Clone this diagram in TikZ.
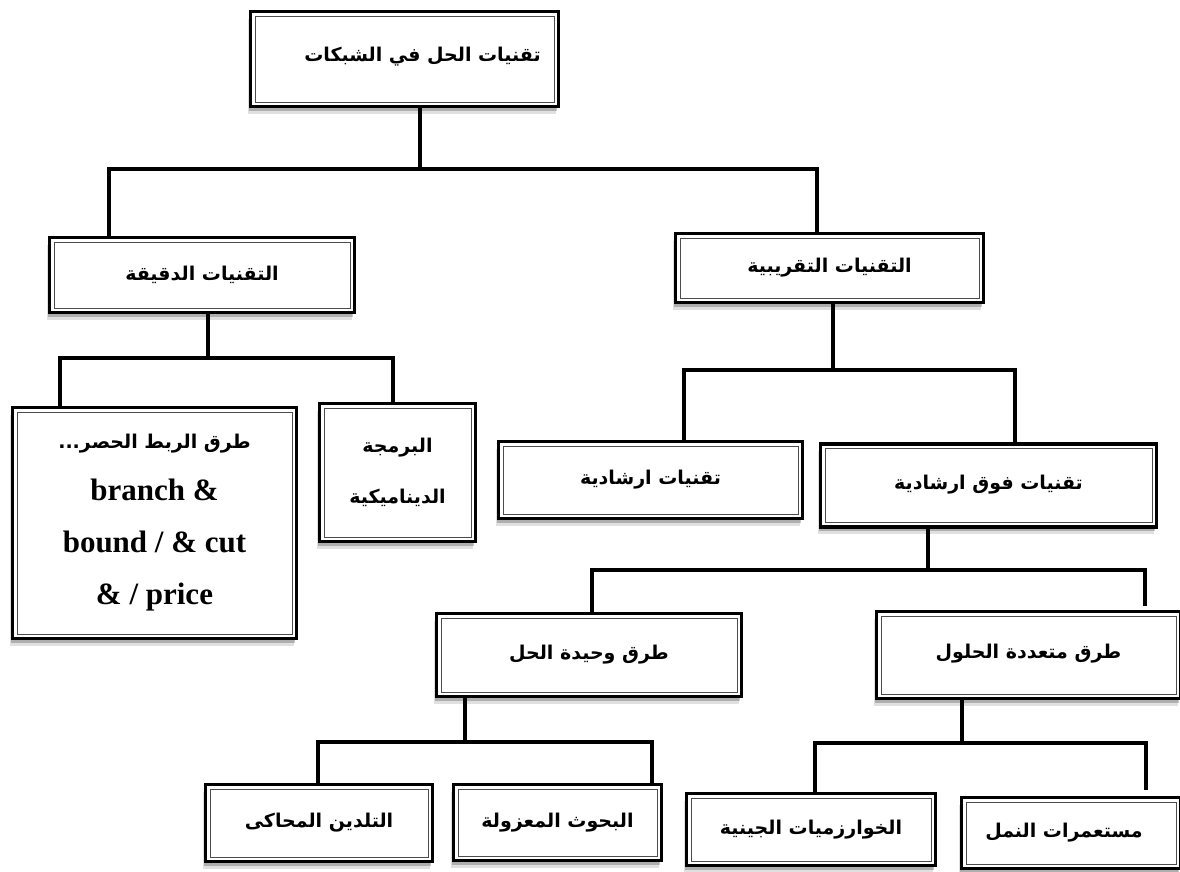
\documentclass[tikz,border=0pt]{standalone}
\usepackage{fontspec}
\setmainfont{Liberation Serif}
\newfontfamily\arabicfont[Script=Arabic]{DejaVu Sans}
\TeXXeTstate=1
\usetikzlibrary{shadows}
\newcommand{\artx}[1]{{\arabicfont\bfseries\fontsize{19}{22}\selectfont\beginR #1\endR}}
\newcommand{\lat}[1]{{\bfseries #1}}
\tikzset{
  tbox/.style={draw=black, line width=3.4pt, fill=white, inner sep=0pt, align=center,
    general shadow={shadow xshift=-3pt, shadow yshift=-7pt, fill=black, opacity=0.12},
    general shadow={shadow xshift=-2pt, shadow yshift=-4pt, fill=black, opacity=0.22},
    path picture={\draw[line width=0.8pt, black!70]
      ([shift={(4.5pt,4.5pt)}]path picture bounding box.south west) rectangle
      ([shift={(-4.5pt,-4.5pt)}]path picture bounding box.north east);}},
  conn/.style={line width=3.6pt, line join=miter, line cap=rect, black}
}
\begin{document}
\begin{tikzpicture}[x=1pt,y=-1pt]
\useasboundingbox (0,0) rectangle (1180,871);
\fill[white] (0,0) rectangle (1180,871);
% boxes
\node[tbox, minimum width=308pt, minimum height=95pt] (root) at (404.5,59)
  {\raisebox{9pt}{\hspace*{36pt}\artx{تقنيات الحل في الشبكات}}};
\node[tbox, minimum width=305pt, minimum height=75pt] (exact) at (202,275)
  {\artx{التقنيات الدقيقة}};
\node[tbox, minimum width=308pt, minimum height=69pt] (approx) at (829.5,268)
  {\raisebox{-5pt}{\artx{التقنيات التقريبية}}};
\node[tbox, minimum width=284pt, minimum height=231pt, font=\fontsize{31}{52}\selectfont] (bb) at (154.5,523)
  {\artx{طرق الربط الحصر...}\\\lat{branch \&}\\\lat{bound / \& cut}\\\lat{\& / price}};
\node[tbox, minimum width=156pt, minimum height=138pt, font=\fontsize{19}{51}\selectfont] (dyn) at (397.5,472.5)
  {\artx{البرمجة}\\\artx{الديناميكية}};
\node[tbox, minimum width=304pt, minimum height=77pt] (heur) at (650.5,480)
  {\artx{تقنيات ارشادية}};
\node[tbox, minimum width=336pt, minimum height=83pt] (meta) at (988.5,485.5)
  {\raisebox{7pt}{\artx{تقنيات فوق ارشادية}}};
\node[tbox, minimum width=305pt, minimum height=83pt] (single) at (589,655)
  {\raisebox{5pt}{\artx{طرق وحيدة الحل}}};
\node[tbox, minimum width=304pt, minimum height=87pt] (multi) at (1028.5,655)
  {\raisebox{7pt}{\artx{طرق متعددة الحلول}}};
\node[tbox, minimum width=227pt, minimum height=77pt] (sa) at (319,823)
  {\raisebox{-4pt}{\artx{التلدين المحاكى}}};
\node[tbox, minimum width=208pt, minimum height=76pt] (tabu) at (557.5,822.5)
  {\raisebox{-5pt}{\artx{البحوث المعزولة}}};
\node[tbox, minimum width=249pt, minimum height=72pt] (ga) at (811,829.5)
  {\raisebox{-8pt}{\artx{الخوارزميات الجينية}}};
\node[tbox, minimum width=219pt, minimum height=71pt] (ant) at (1071,833)
  {\raisebox{-4pt}{\artx{مستعمرات النمل}\hspace*{14pt}}};
% junctions
\coordinate (j0) at (420,169);
\coordinate (j1) at (208,358);
\coordinate (j2) at (833,370);
\coordinate (j3) at (928,570);
\coordinate (j4) at (465,742);
\coordinate (j5) at (962,743);
% connectors
\draw[conn] (root.south -| j0) -- (j0);
\draw[conn] (exact.north -| 109,0) -- (109,169) -- (817,169) -- (approx.north -| 817,0);
\draw[conn] (exact.south -| j1) -- (j1);
\draw[conn] (bb.north -| 60,0) -- (60,358) -- (393,358) -- (dyn.north -| 393,0);
\draw[conn] (approx.south -| j2) -- (j2);
\draw[conn] (heur.north -| 684,0) -- (684,370) -- (1015,370) -- (meta.north -| 1015,0);
\draw[conn] (meta.south -| j3) -- (j3);
\draw[conn] (single.north -| 592,0) -- (592,570) -- (1145,570) -- ([yshift=6pt]multi.north -| 1145,0);
\draw[conn] (single.south -| j4) -- (j4);
\draw[conn] (sa.north -| 318,0) -- (318,742) -- (652,742) -- (tabu.north -| 652,0);
\draw[conn] (multi.south -| j5) -- (j5);
\draw[conn] (ga.north -| 815,0) -- (815,743) -- (1146,743) -- ([yshift=8pt]ant.north -| 1146,0);
\end{tikzpicture}
\end{document}
